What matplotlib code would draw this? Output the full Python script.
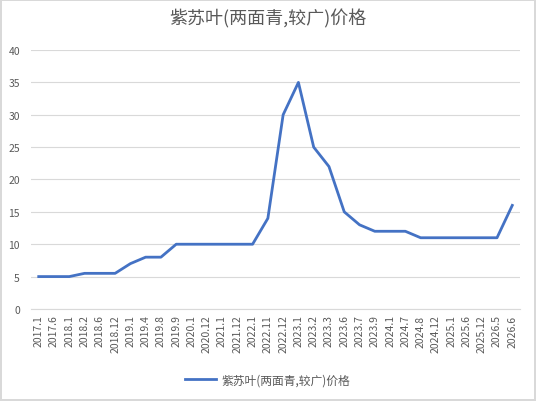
import matplotlib
matplotlib.use("Agg")
import matplotlib.pyplot as plt

plt.rcParams['font.family'] = ['Noto Sans CJK SC', 'DejaVu Sans']

dates = ["2017.1", "2017.6", "2018.1", "2018.2", "2018.6", "2018.12", "2019.1", "2019.4",
         "2019.8", "2019.9", "2020.1", "2020.12", "2021.1", "2021.12", "2022.1", "2022.11",
         "2022.12", "2023.1", "2023.2", "2023.3", "2023.6", "2023.7", "2023.9", "2024.1",
         "2024.7", "2024.8", "2024.12", "2025.1", "2025.6", "2025.12", "2026.5", "2026.6"]
prices = [5, 5, 5, 5.5, 5.5, 5.5, 7, 8, 8, 10, 10, 10, 10, 10, 10, 14,
          30, 35, 25, 22, 15, 13, 12, 12, 12, 11, 11, 11, 11, 11, 11, 16]
series_name = "紫苏叶(两面青,较广)价格"

fig = plt.figure(figsize=(5.36, 4.02), dpi=100)
fig.patch.set_edgecolor('#D9D9D9')
fig.patch.set_linewidth(1.5)
ax = fig.add_axes([0.058, 0.229, 0.912, 0.644])

x = list(range(len(dates)))
ax.plot(x, prices, color='#4472C4', linewidth=2.0, label=series_name)

ax.set_ylim(0, 40)
ax.set_yticks(range(0, 41, 5))
ax.set_xlim(-0.5, len(dates) - 0.5)
ax.set_xticks(x)
ax.set_xticklabels(dates, rotation=90, fontsize=7.5, color='#595959')
ax.tick_params(axis='y', labelsize=7.5, labelcolor='#595959', length=0, pad=8)
ax.tick_params(axis='x', length=0, pad=4)
ax.grid(axis='y', color='#D9D9D9', linewidth=0.8)
ax.set_axisbelow(True)
for s in ['top', 'right', 'left']:
    ax.spines[s].set_visible(False)
ax.spines['bottom'].set_color('#D9D9D9')

fig.text(0.5, 0.952, series_name, ha='center', va='center', fontsize=13, color='#595959')
fig.legend(loc='center', bbox_to_anchor=(0.5, 0.052), frameon=False, fontsize=8.5,
           labelcolor='#595959', handlelength=2.6, handletextpad=0.5)

fig.savefig("out.png", dpi=100)
